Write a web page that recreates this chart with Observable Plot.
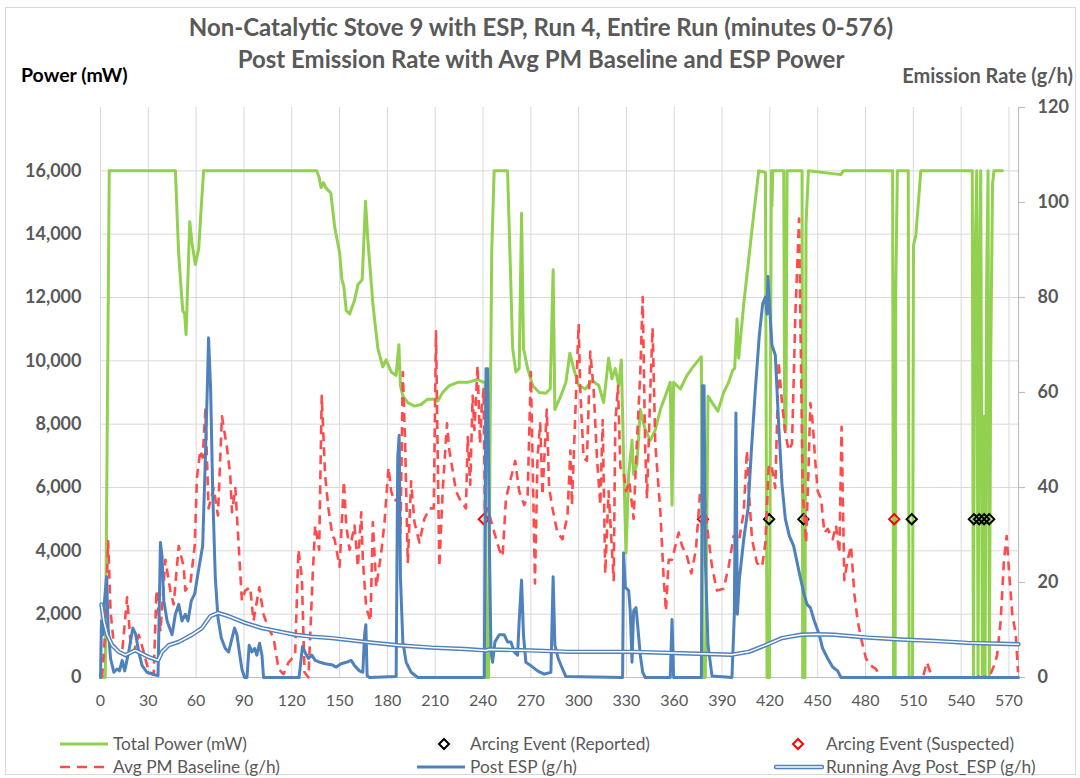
<!DOCTYPE html>
<html><head><meta charset="utf-8">
<script src="https://cdn.jsdelivr.net/npm/d3@7"></script>
<script src="https://cdn.jsdelivr.net/npm/@observablehq/plot@0.6"></script>
<style>
body{margin:0;background:#fff;}
#wrap{position:relative;width:1080px;height:778px;font-family:Lato,"Open Sans",sans-serif;overflow:hidden;background:#fff;}
#border{position:absolute;left:5px;top:7px;width:1071px;height:768px;border:1px solid #d9d9d9;box-sizing:border-box;}
.t{position:absolute;white-space:nowrap;height:30px;line-height:30px;}
#plot{position:absolute;left:0;top:0;}
.sw{position:absolute;}
</style></head>
<body>
<div id="wrap">
<div id="border"></div>
<div id="plot"></div>
</div>
<script>
// ---------- data ----------
const xTicks = [0,30,60,90,120,150,180,210,240,270,300,330,360,390,420,450,480,510,540,570];
const leftTicks = [0,2000,4000,6000,8000,10000,12000,14000,16000];
const rightTicks = [0,20,40,60,80,100,120];

// Total Power (mW)
const powerMin = [0,3,5.5,47,49,50.5,51.6,52.8,53.7,56,57.4,59.5,61.6,63.3,64.7,100,135.7,137.2,138.4,139.9,141.3,144.5,147,150,151.5,152.7,154.2,156.3,159.4,161.5,164.2,166.3,167.7,170.9,174,177.1,179.2,182.4,185.5,187.2,188.2,189.7,192.8,197,201.1,205.3,209.5,211.6,214.7,218.9,224.1,230.4,236.6,240.4,241.5,242,243.5,244.5,245.5,247,255.4,256.9,258.6,260.6,262.7,264.2,265.4,268,271.1,275.3,279.4,282.2,284,285.1,288.8,292,294.5,296.9,300,304.2,308.4,312.6,315.7,318.8,320.9,323,325.1,326.8,328.2,329.7,331.4,333.5,334.5,336.6,338.7,341.8,345,348.1,351.3,354.4,357.5,358.6,359.6,363.8,368,371.1,375.3,377,377.8,379.5,381.2,383.7,387.4,391,394.1,396.7,397.9,399.4,400.4,403.6,406.7,409.8,413,417.2,418.2,419.7,420.9,421.3,421.8,428.7,429.3,430.1,430.8,440.2,440.6,442,442.7,444.2,464.6,466,497,497.6,498.6,499,500,506.8,507.4,509.5,510.1,511.6,514.7,547,547.7,548.5,549.8,550.6,551.5,552.3,553.3,554.2,555,556,556.9,557.7,558.6,559.7,560.6,565.9];
const powerMW = [0,0,16000,16000,13420,12340,11590,11480,10830,14390,13740,13040,13530,14930,16000,16000,16000,15790,15470,15630,15470,15300,14200,13420,12560,12340,11590,11480,11910,12400,12560,15040,13850,11800,10400,9810,10030,9650,9540,10510,9220,8890,8680,8570,8620,8790,8790,8730,9000,9220,9320,9320,9410,9320,9320,0,0,8000,13500,16000,16000,13420,10400,9650,9760,14660,10400,9760,9220,9000,8980,9110,12880,8460,8890,9320,10240,9760,9220,9110,9380,9220,8680,10080,9430,9760,9220,10030,6950,3930,6410,7490,6410,6740,8460,7820,7490,7820,8460,8890,9320,5440,9320,9110,9540,9760,10030,10130,0,0,8890,8680,8410,9000,9320,9700,9760,11320,10080,11800,13200,14600,16000,15950,0,0,16000,14880,16000,16000,7820,7820,16000,16000,0,0,14340,16000,15880,16000,16000,0,0,12340,16000,16000,0,0,13640,13960,16000,16000,0,12450,16000,0,12450,16000,0,8250,0,12450,16000,0,10190,15580,16000,16000];

// Avg PM Baseline (g/h)
const pmMin = [1,3.1,4.8,6.3,8.4,11.5,13.6,16.7,18.8,20.9,24,27.1,30.3,33.4,35.1,37.6,40.7,43.8,45.9,49.1,52.2,53.2,56.4,59.1,60.5,62.6,64.1,65.8,67.8,71,73.7,76.2,79.3,81.4,82.5,84.6,86.6,88.7,90.8,93.9,96,99.6,102.3,105.4,108.6,111.7,114.8,118,122.1,124.2,126.3,128,130.5,133,134.7,137.2,138.8,140.9,143,145.5,146.9,150,152.7,154.2,156.3,159.4,161.5,163.6,164.6,166.7,169.4,170.9,173,176.1,178.2,180.7,182.4,184.4,186.5,188.2,189.7,191.1,192.8,194.9,197,200.1,203.2,206.4,209.1,210.5,211.6,212.6,214.7,217.4,218.9,221,223.1,226.2,229.3,230.4,232,233.5,234.6,236.6,238.1,239.1,240.4,241.2,242.9,247.1,250.2,252.3,254.4,257.5,260.2,262.7,265.9,268,270,271.1,272.6,274.2,275.9,277.3,280,281.5,283.6,286.7,289.9,293,294.8,295.8,300,301,303.1,305.2,307.3,309.4,311.5,313.6,315.1,316.7,318.8,322,323,324.7,326.2,328.2,329.7,331.8,334.5,336.6,338.7,340.2,341.8,342.9,345,346.4,348.1,351.3,353.3,354.8,356.5,358.6,360.7,362.8,364.9,368,370.7,373.6,376.4,378.5,380.5,383.7,386.8,391,394.1,397.3,400.4,403.6,405.6,407.1,408.8,411.9,415.1,417.2,419.2,420.9,423.4,425.5,427.6,429.7,431.8,433.9,436,438.3,440.6,442.7,444.2,445.4,446.9,448.3,450,452.1,454.2,456.3,459.4,461.5,463.6,465,465.7,466.7,468.8,470.9,473,475.1,477.2,480.3,483.4,486.5,489.7,516,518.5,521.4,523,548,550.2,552,558,560.6,562.6,564.8,566.9,568.6,570,572.1,574.3,575.7];
const pmGh = [0,10.4,28.7,14,6.8,5.4,5.4,16.9,7.5,5.4,9,5.4,1.1,0.7,18.3,9.7,24.8,18.3,15.4,27.7,23.3,18.3,19.8,27.7,42,47.8,46.3,56.4,35.6,39.9,34.1,55,48.5,42.7,34.8,39.9,28.4,16.2,18.3,19,11.9,19,13.3,10.4,8.3,1.8,0.7,3.2,4.7,26.9,21.2,1.1,0,20.5,32,26.9,59.3,42.7,35.6,29.8,29.1,23.3,41.3,32,26.9,32,23.3,34.8,24.8,14.7,11.9,32.7,19,26.2,32.7,44.2,39.2,37.1,37.7,30.5,64.3,49.9,24.1,41.3,32.7,28.4,33.4,35.6,35.6,72.9,46.3,23.3,39.2,53.5,47.8,43.5,39.2,37,35.6,50.6,40.6,59.3,52.1,65.7,49.2,56.4,60.7,34.1,35.6,30.5,26.9,25.5,37.7,42,45.6,39.2,36.3,38.4,64.3,46.3,19.8,46.3,53.5,38.4,56.4,39.9,35.6,30.5,29.1,34.1,47.8,36.3,74.4,60.7,46.3,45.6,68.6,60.7,46.3,36.3,54.2,21.9,39.2,20.5,53.5,61.4,44.2,43.5,39.2,41.3,33.4,49.9,64.3,80.1,47.8,37.7,60.7,73.6,49.2,34.8,21.2,14,24.8,24.8,27.7,30.5,27.7,25.5,21.9,26.9,39.9,39.9,32,23.3,18.3,18.7,23.3,29.8,28.4,34.8,47.8,37.7,29.1,24.1,23.3,28.4,44.2,44.9,39.9,66.5,57.8,51.4,47.8,49.2,76.5,96.6,39.2,28.4,43.5,57.8,53.5,46.3,39.2,37.7,30.5,31.3,29.1,32,26.2,52.8,39.2,20.5,24.8,27.7,17.6,11.9,8.3,4,2.5,1.8,0,0,3.2,0.4,0,0,0.4,0,0.3,2.5,4.7,11.9,24.8,29.8,22.6,13.3,9,1.1];

// Post ESP (g/h)
const postMin = [0,0.6,1.5,2.3,3.8,4.8,6.3,8.4,10.4,11.9,13.6,15.2,17.7,20.3,21.9,24,26.1,29.2,32.4,36.1,37.6,38.6,39.7,41.8,44.9,47,49.1,51.1,53.2,54.9,57,59.1,60.5,62.6,64.1,65.8,67,67.8,69.1,70.4,72,73.7,75.8,78.3,80.4,84.1,85.6,87.1,88.7,90.4,91.9,93.3,95,96.7,98.1,99.8,101.3,102.3,124.6,126.7,128.8,130.5,132.6,134.7,137.8,140.9,145,147.9,151,154.2,157.3,159.4,162.5,164.6,165.7,166.5,167.3,168.8,185.5,186.5,187.4,188.2,189.7,191.8,194.9,199.1,240.8,241.9,242.9,244,245,246,247.5,250.2,253.3,255.4,257.5,259.6,261.7,262.7,264.2,265.4,266.9,270,274.2,278.4,282.6,284,285.1,287.2,289.9,292,327.6,328.2,329.3,331.4,332.4,333.5,334.5,336,337.2,338.7,340.2,341.8,357.5,358.6,359.6,377,377.8,378.7,379.5,381.2,383.7,396.2,397.7,398.7,399.6,400.8,403.6,406.3,408.4,410.9,413.4,415.5,417.2,418.2,418.8,419.7,421.3,423.4,425.5,427.6,429.7,432.2,434.9,438.1,441.4,443.3,445.4,447.9,451,453.1,456.3,459.4,462.5,464.6,576];
const postGh = [0,11.9,9,15.4,21.2,10.4,4,1.1,1.8,1.4,3.6,1.4,5.4,10.4,9.3,5.4,2.5,1.1,0.7,0.4,28.4,25.5,16.2,11.9,9,13.3,15.4,11.9,13.3,11.9,16.2,17.6,20.5,24.8,27.7,46.3,60.7,71.5,60.7,39.2,21.2,12.6,8.3,6.1,5.4,10.4,9,5.4,1.8,0,0,6.8,5.4,6.1,4.7,7.2,4.7,0,0,6.5,5,4,4.7,3.6,3.2,2.9,2.7,2.2,2.9,3.2,3.6,2.5,1.4,1.1,9,11.1,0.4,0,0.2,46.3,51,21.2,7.5,3.2,1.1,0,0,65,65,28.4,5.4,3.2,7.5,9,9,7.5,7.5,5.4,4.7,11.9,20.5,9,3.2,2.5,1.4,0.7,1.1,21.2,6.8,4,1.8,0.2,0,26.2,19,18.3,14,3.2,14,14.7,10.4,4.7,1.1,0,0,12.2,0,0,61.4,61.4,24.8,6.8,0.3,0,13.3,55.7,13.3,20.5,29.1,35.6,47.8,60.7,72.2,78.7,80.1,76.5,84.4,78.7,70,67.9,53.5,40.6,33.4,29.8,27.7,22.6,17.6,15.4,14.7,11.9,9,6.1,4,2.2,1.4,0,0];

// Running Avg Post_ESP (g/h)
const avgMin = [0.6,2.1,4.2,7.3,11.5,15.7,19.8,21.9,26.1,30.3,36.1,38.6,42.8,49.1,57.4,63.7,68.9,73.7,80.4,90.8,101.3,111.7,122.1,132.6,145,165.7,186.5,207.4,228.3,241.9,244,270,294,333.5,375.3,396.2,406.7,417.2,427.6,439.6,450,460.4,481.3,502.2,523.1,543.9,564.8,576];
const avgGh = [15.4,11.9,9,6.8,5.4,4.7,5.4,5.7,5,4.3,3.6,5.4,6.8,7.5,9,10.4,12.9,13.6,12.9,11.5,10.4,9.7,9,8.6,8.3,7.5,6.8,6.3,6,5.7,5.9,5.7,5.4,5.4,5,4.8,5.4,6.8,8.3,9,9.1,9,8.4,8,7.7,7.3,7.1,7];

// Arcing events (minutes), plotted at 5,000 mW
const arcReported = [419.5,441,509,548,551.3,554.4,557.6];
const arcSuspected = [240.5,378,498];
const arcLevel = 5000;
const ratio = 150; // mW per g/h (18,000 mW <-> 120 g/h)

// ---------- tables ----------
const rows = (ms, vs) => ms.map((m, i) => ({m, v: vs[i]}));
const power = rows(powerMin, powerMW);
const pm = rows(pmMin, pmGh);
const post = rows(postMin, postGh);
const avg = rows(avgMin, avgGh);

const GREEN = "#92D050", RED = "#FF4B4B", BLUE = "#4F81BD", TXT = "#595959";
const FONT = "Lato, 'Open Sans', sans-serif";

// layout
const W = 1080, H = 720, ML = 100, MR = 62, MT = 107, MB = 43;
const X0 = 0, X1 = 576;
const minPerPx = (X1 - X0) / (W - ML - MR);
const leftLabelX = X0 - 19 * minPerPx;   // 19px left of the frame
const rightLabelX = X1 + 19 * minPerPx;  // 19px right of the frame

const chart = Plot.plot({
  width: W, height: H,
  marginLeft: ML, marginRight: MR, marginTop: MT, marginBottom: MB,
  x: {domain: [X0, X1]},
  y: {domain: [0, 18000]},
  style: {fontFamily: FONT, background: "transparent", overflow: "visible"},
  marks: [
    Plot.ruleX(xTicks, {stroke: "#d9d9d9", strokeWidth: 1}),
    Plot.ruleY(leftTicks.filter(d => d > 0), {stroke: "#d9d9d9", strokeWidth: 1}),
    Plot.ruleY([0], {stroke: "#bfbfbf", strokeWidth: 1.2}),
    Plot.ruleX([X1], {stroke: "#bfbfbf", strokeWidth: 1.2}),
    Plot.axisX({ticks: [], label: null, tickSize: 0}),
    Plot.axisY({anchor: "left", ticks: [], label: null, tickSize: 0}),
    Plot.axisY({anchor: "right", ticks: rightTicks.map(d => d * ratio), tickFormat: () => "", tickSize: 6, label: null, stroke: "#bfbfbf", strokeWidth: 1.2}),
    // tick labels
    Plot.text(xTicks, {x: d => d, y: () => 0, dy: 23, lineAnchor: "middle", text: d => String(d), fontSize: 16, fill: TXT}),
    Plot.text(leftTicks, {x: () => leftLabelX, y: d => d, textAnchor: "end", lineAnchor: "middle", text: d => d3.format(",")(d), fontSize: 18, fontWeight: "bold", fill: TXT}),
    Plot.text(rightTicks, {x: () => rightLabelX, y: d => d * ratio, textAnchor: "start", lineAnchor: "middle", text: d => String(d), fontSize: 18, fontWeight: "bold", fill: TXT}),
    // series
    Plot.line(power, {x: "m", y: "v", stroke: GREEN, strokeWidth: 3}),
    Plot.dot(arcReported, {x: d => d, y: () => arcLevel, symbol: "diamond2", r: 4.6, stroke: "#000", strokeWidth: 2, fill: "none"}),
    Plot.dot(arcSuspected, {x: d => d, y: () => arcLevel, symbol: "diamond2", r: 4.6, stroke: "#FF0000", strokeWidth: 2, fill: "none"}),
    Plot.line(pm, {x: "m", y: d => d.v * ratio, stroke: RED, strokeWidth: 2.6, strokeDasharray: "9,6", strokeLinecap: "butt"}),
    Plot.line(post, {x: "m", y: d => d.v * ratio, stroke: BLUE, strokeWidth: 3}),
    Plot.line(avg, {x: "m", y: d => d.v * ratio, stroke: BLUE, strokeWidth: 4.4}),
    Plot.line(avg, {x: "m", y: d => d.v * ratio, stroke: "#ffffff", strokeWidth: 1.5})
  ]
});
document.getElementById("plot").appendChild(chart);

// ---------- text & legend ----------
const wrap = document.getElementById("wrap");
function txt(s, x, yc, o = {}) {
  const d = document.createElement("div");
  d.className = "t";
  d.textContent = s;
  d.style.top = (yc - 15) + "px";
  d.style.fontSize = (o.size || 16) + "px";
  d.style.fontWeight = o.bold ? "bold" : "normal";
  d.style.color = o.color || TXT;
  if (o.center) { d.style.left = "0px"; d.style.width = "1082px"; d.style.textAlign = "center"; }
  else if (o.right) { d.style.right = (1080 - x) + "px"; }
  else d.style.left = x + "px";
  wrap.appendChild(d);
}
txt("Non-Catalytic Stove 9 with ESP, Run 4, Entire Run (minutes 0-576)", 0, 27, {center: true, bold: true, size: 24});
txt("Post Emission Rate with Avg PM Baseline and ESP Power", 0, 59, {center: true, bold: true, size: 24});
txt("Power (mW)", 21, 75, {bold: true, size: 19.5, color: "#000"});
txt("Emission Rate (g/h)", 1073, 75, {bold: true, size: 20, right: true});

function swatch(x, yc, w, inner) {
  const s = document.createElementNS("http://www.w3.org/2000/svg", "svg");
  s.setAttribute("class", "sw");
  s.setAttribute("width", w); s.setAttribute("height", 16);
  s.style.left = x + "px"; s.style.top = (yc - 8) + "px";
  s.innerHTML = inner;
  wrap.appendChild(s);
}
const r1 = 744, r2 = 767, LS = 17.3;
swatch(60, r1, 48, `<line x1="0" y1="8" x2="48" y2="8" stroke="${GREEN}" stroke-width="3"/>`);
txt("Total Power (mW)", 113, r1, {size: LS});
swatch(436, r1, 16, `<path d="M8 3 L13 8 L8 13 L3 8 Z" fill="none" stroke="#000" stroke-width="2"/>`);
txt("Arcing Event (Reported)", 470, r1, {size: LS});
swatch(790, r1, 16, `<path d="M8 3 L13 8 L8 13 L3 8 Z" fill="none" stroke="#FF0000" stroke-width="2"/>`);
txt("Arcing Event (Suspected)", 826, r1, {size: LS});
swatch(60, r2, 48, `<line x1="0" y1="8" x2="48" y2="8" stroke="${RED}" stroke-width="2.6" stroke-dasharray="10,7"/>`);
txt("Avg PM Baseline (g/h)", 113, r2, {size: LS});
swatch(417, r2, 48, `<line x1="0" y1="8" x2="48" y2="8" stroke="${BLUE}" stroke-width="3"/>`);
txt("Post ESP (g/h)", 470, r2, {size: LS});
swatch(774, r2, 50, `<line x1="2" y1="8" x2="48" y2="8" stroke="${BLUE}" stroke-width="4.4" stroke-linecap="round"/><line x1="2" y1="8" x2="48" y2="8" stroke="#fff" stroke-width="1.5" stroke-linecap="round"/>`);
txt("Running Avg Post_ESP (g/h)", 826, r2, {size: LS});
</script>
</body></html>
